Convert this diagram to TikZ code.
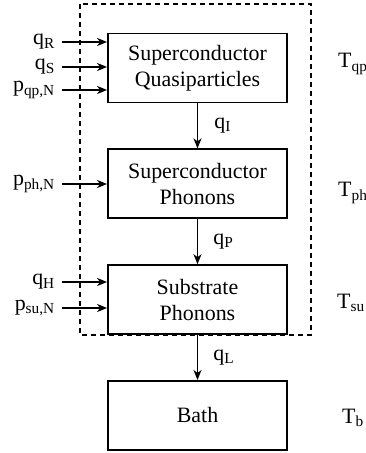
\documentclass[tikz,border=0pt]{standalone}
\usepackage{fontspec}
\setmainfont{Liberation Serif}
\usetikzlibrary{arrows.meta,positioning}
\tikzset{
        % Stage boxes
        node_stage/.style={draw, line width=1.8bp, align=center, inner sep=0pt,
            minimum width=179bp, minimum height=69bp, font=\rmfamily\fontsize{22}{26}\selectfont},
        % Flow and temperature labels
        node_label/.style={inner sep=0pt, font=\rmfamily\fontsize{22}{26}\selectfont},
        % Heat flow arrows
        flow/.style={-{Stealth[length=10bp,width=8bp,inset=3bp]}, line width=1.7bp},
        % System boundary
        boundary/.style={line width=1.7bp, dash pattern=on 5bp off 4bp}
}
\begin{document}
\begin{tikzpicture}[x=1bp, y=-1bp]
    \useasboundingbox (0,0) rectangle (365,453);
    \node[node_stage] (qp) at (197.5,68) {Superconductor\\Quasiparticles};
    \node[node_stage, below=45bp of qp] (ph) {Superconductor\\Phonons};
    \node[node_stage, below=45bp of ph] (su) {Substrate\\Phonons};
    \node[node_stage, below=45bp of su] (bath) {Bath};
    % boundary of the detector
    \draw[boundary] (80,4) rectangle (311,0 |- su.south);
    % inputs
    \foreach \lab/\y/\tgt in {{q\textsubscript{R}}/42/qp, {q\textsubscript{S}}/67/qp,
            {p\textsubscript{qp,N}}/90/qp, {p\textsubscript{ph,N}}/184/ph,
            {q\textsubscript{H}}/282/su, {p\textsubscript{su,N}}/308/su} {
        \coordinate (src-\y) at (62,\y);
        \node[node_label, left=7bp of src-\y] (lab-\y) {\lab};
        \draw[flow] (src-\y) -- (src-\y -| \tgt.west);
    }
    % flows between stages
    \draw[flow] (qp) -- node[node_label, right=16bp] (q_I) {q\textsubscript{I}} (ph);
    \draw[flow] (ph) -- node[node_label, right=15bp] (q_P) {q\textsubscript{P}} (su);
    \draw[flow] (su) -- node[node_label, right=15bp] (q_L) {q\textsubscript{L}} (bath);
    % temperatures
    \node[node_label, anchor=base west] (T_qp) at (338,68) {T\textsubscript{qp}};
    \node[node_label, anchor=base west] (T_ph) at (338,197) {T\textsubscript{ph}};
    \node[node_label, anchor=base west] (T_su) at (337,308) {T\textsubscript{su}};
    \node[node_label, anchor=base west] (T_b) at (342,423) {T\textsubscript{b}};
\end{tikzpicture}
\end{document}
